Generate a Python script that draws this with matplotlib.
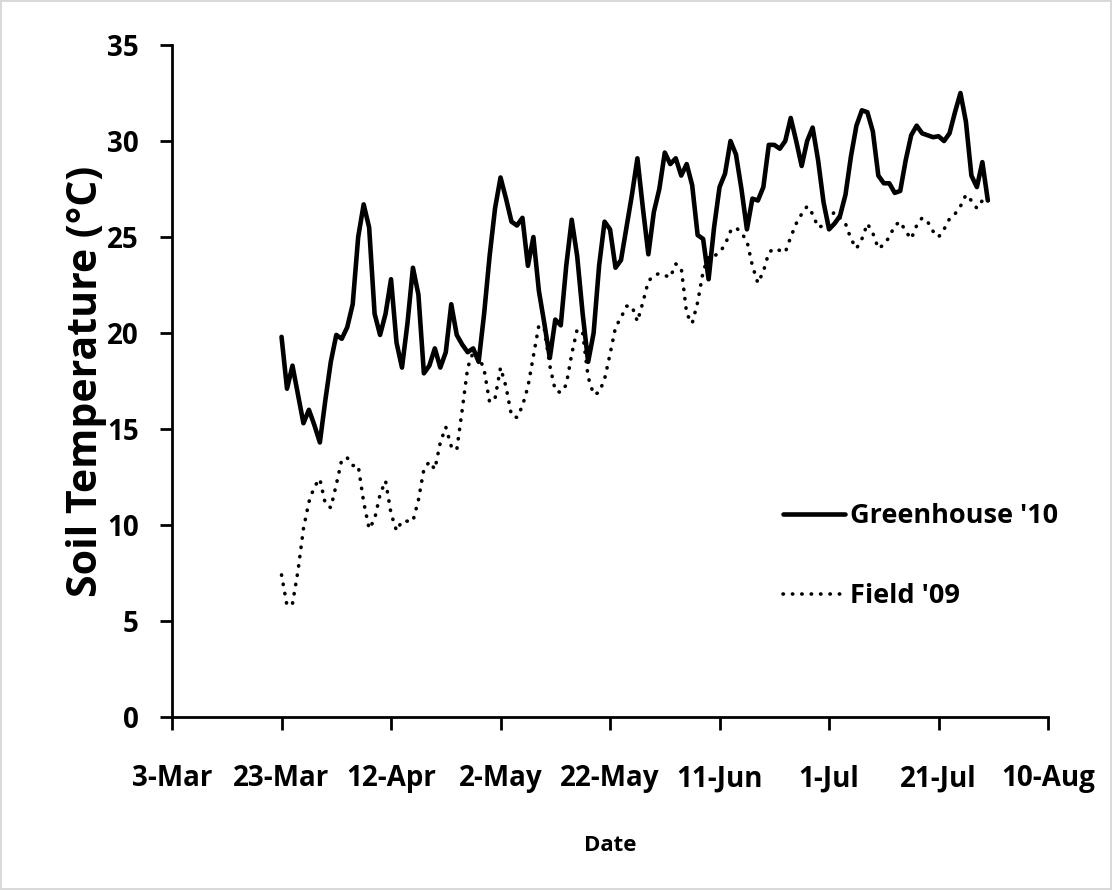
import numpy as np
import pandas as pd
import matplotlib
matplotlib.use("Agg")
import matplotlib.pyplot as plt
import matplotlib.dates as mdates

plt.rcParams['font.family'] = ['Open Sans', 'DejaVu Sans']

# daily soil temperature, 23-Mar to 30-Jul
dates = pd.date_range('2010-03-23', '2010-07-30', freq='D')

greenhouse = [
    19.8, 17.1, 18.3, 16.8, 15.3, 16.0, 15.2, 14.3, 16.5, 18.5,
    19.9, 19.7, 20.3, 21.5, 25.0, 26.7, 25.5, 21.0, 19.9, 21.0,
    22.8, 19.5, 18.2, 20.5, 23.4, 22.0, 17.9, 18.3, 19.2, 18.2,
    19.0, 21.5, 19.9, 19.4, 19.0, 19.2, 18.5, 21.0, 24.0, 26.5,
    28.1, 27.0, 25.8, 25.6, 26.0, 23.5, 25.0, 22.2, 20.5, 18.7,
    20.7, 20.4, 23.5, 25.9, 24.0, 21.0, 18.5, 20.0, 23.5, 25.8,
    25.4, 23.4, 23.8, 25.5, 27.2, 29.1, 26.5, 24.1, 26.3, 27.5,
    29.4, 28.8, 29.1, 28.2, 28.8, 27.7, 25.1, 24.9, 22.8, 25.5,
    27.6, 28.3, 30.0, 29.3, 27.5, 25.4, 27.0, 26.9, 27.6, 29.8,
    29.8, 29.6, 30.0, 31.2, 30.0, 28.7, 30.0, 30.7, 29.0, 26.8,
    25.4, 25.7, 26.1, 27.2, 29.2, 30.8, 31.6, 31.5, 30.5, 28.2,
    27.8, 27.8, 27.3, 27.4, 29.0, 30.3, 30.8, 30.4, 30.3, 30.2,
    30.25, 30.0, 30.4, 31.5, 32.5, 31.0, 28.2, 27.6, 28.9, 26.9,
]

field = [
    7.4, 5.8, 5.9, 7.6, 9.8, 11.2, 12.0, 12.4, 11.1, 10.9,
    12.1, 13.4, 13.5, 13.1, 13.1, 11.2, 9.8, 10.3, 11.6, 12.3,
    10.6, 9.7, 10.2, 10.2, 10.2, 11.3, 12.9, 13.3, 12.9, 14.3,
    15.1, 14.1, 13.9, 16.0, 18.2, 19.0, 18.8, 18.1, 16.4, 16.6,
    18.2, 17.2, 15.7, 15.6, 16.2, 17.2, 18.8, 20.4, 20.2, 18.3,
    17.0, 16.9, 17.3, 18.9, 20.2, 20.0, 17.7, 16.8, 16.9, 17.6,
    18.9, 20.3, 20.8, 21.4, 21.4, 20.6, 21.6, 22.7, 23.0, 23.1,
    23.0, 22.9, 23.6, 23.4, 21.0, 20.5, 21.6, 23.2, 24.0, 24.0,
    24.2, 24.6, 25.3, 25.5, 25.2, 24.8, 23.5, 22.6, 23.2, 24.2,
    24.4, 24.3, 24.2, 25.0, 25.7, 26.2, 26.6, 26.2, 25.5, 25.6,
    26.0, 26.3, 26.0, 25.7, 24.9, 24.4, 24.9, 25.7, 25.2, 24.4,
    24.6, 25.0, 25.6, 25.8, 25.3, 24.9, 25.6, 26.0, 25.8, 25.3,
    25.0, 25.4, 25.95, 26.2, 26.6, 27.2, 26.9, 26.5, 26.9, 26.9,
]

xticks = pd.date_range('2010-03-03', periods=9, freq='20D')
yticks = [0, 5, 10, 15, 20, 25, 30, 35]

fig = plt.figure(figsize=(11.12, 8.9), dpi=100)
fig.patch.set_edgecolor('#d9d9d9')
fig.patch.set_linewidth(1.5)
ax = fig.add_axes([0.1547, 0.1944, 0.7878, 0.755])

ax.plot(dates, greenhouse, color='black', lw=3.3, solid_joinstyle='round',
        solid_capstyle='round', label="Greenhouse '10")
ax.plot(dates, field, color='black', lw=2.6, linestyle=(0, (0.1, 2.5)),
        dash_capstyle='round', label="Field '09")

ax.set_xlim(xticks[0], xticks[-1])
ax.set_ylim(0, 35)
ax.set_xticks(xticks)
ax.xaxis.set_major_formatter(mdates.DateFormatter('%-d-%b'))
ax.set_yticks(yticks)

for s in ['top', 'right']:
    ax.spines[s].set_visible(False)
for s in ['left', 'bottom']:
    ax.spines[s].set_linewidth(2)
ax.tick_params(axis='both', direction='out', length=9, width=2,
               labelsize=20)
ax.tick_params(axis='x', pad=25)
ax.tick_params(axis='y', pad=15)
for lbl in ax.get_xticklabels() + ax.get_yticklabels():
    lbl.set_fontweight('bold')

ax.set_ylabel('Soil Temperature (°C)', fontsize=29.5, fontweight='bold',
              labelpad=0)
ax.set_xlabel('Date', fontsize=16, fontweight='bold', labelpad=30)

ax.legend(loc='center left', bbox_to_anchor=(0.697, 0.239), frameon=False,
          prop={'size': 19.5, 'weight': 'bold'}, handlelength=2.3,
          handletextpad=0.2, labelspacing=2.0, borderpad=0,
          borderaxespad=0)

fig.savefig('out.png', dpi=100)
